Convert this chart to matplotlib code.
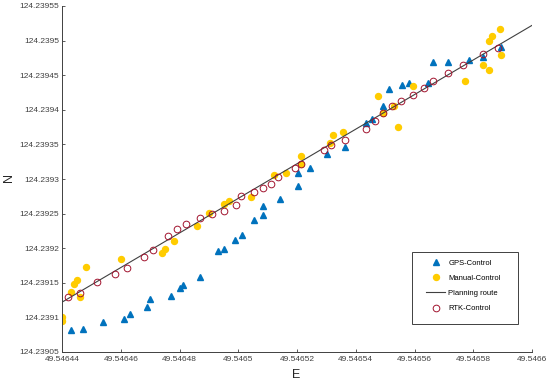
import matplotlib
matplotlib.use("Agg")
import matplotlib.pyplot as plt
from matplotlib.patches import Rectangle

# GPS controlled track (blue triangles)
gps_e = [49.5464431, 49.5464472, 49.5464540, 49.5464612, 49.5464632, 49.5464690,
         49.5464700, 49.5464772, 49.5464803, 49.5464813, 49.5464871, 49.5464932,
         49.5464953, 49.5464990, 49.5465014, 49.5465052, 49.5465083, 49.5465083,
         49.5465141, 49.5465202, 49.5465202, 49.5465243, 49.5465301, 49.5465362,
         49.5465434, 49.5465455, 49.5465492, 49.5465513, 49.5465557, 49.5465581,
         49.5465646, 49.5465663, 49.5465714, 49.5465786, 49.5465833, 49.5465895]
gps_n = [124.2390818, 124.2390832, 124.2390934, 124.2390977, 124.2391049, 124.2391150,
         124.2391266, 124.2391309, 124.2391425, 124.2391468, 124.2391584, 124.2391959,
         124.2391988, 124.2392118, 124.2392191, 124.2392407, 124.2392480, 124.2392610,
         124.2392711, 124.2392899, 124.2393087, 124.2393159, 124.2393361, 124.2393462,
         124.2393809, 124.2393867, 124.2394055, 124.2394300, 124.2394358, 124.2394387,
         124.2394387, 124.2394691, 124.2394691, 124.2394719, 124.2394763, 124.2394907]

# Manual controlled track (yellow dots)
manual_e = [49.5464400, 49.5464400, 49.5464431, 49.5464441, 49.5464451, 49.5464461,
            49.5464482, 49.5464601, 49.5464741, 49.5464752, 49.5464782, 49.5464861,
            49.5464902, 49.5464950, 49.5464970, 49.5465042, 49.5465120, 49.5465161,
            49.5465212, 49.5465212, 49.5465311, 49.5465322, 49.5465356, 49.5465475,
            49.5465492, 49.5465530, 49.5465543, 49.5465595, 49.5465772, 49.5465833,
            49.5465854, 49.5465854, 49.5465864, 49.5465892, 49.5465895]
manual_n = [124.2391006, 124.2390948, 124.2391367, 124.2391483, 124.2391540, 124.2391295,
            124.2391728, 124.2391844, 124.2391931, 124.2391988, 124.2392104, 124.2392321,
            124.2392509, 124.2392639, 124.2392682, 124.2392740, 124.2393058, 124.2393087,
            124.2393332, 124.2393217, 124.2393520, 124.2393636, 124.2393679, 124.2394199,
            124.2393954, 124.2394055, 124.2393751, 124.2394344, 124.2394416, 124.2394647,
            124.2394575, 124.2394994, 124.2395066, 124.2395167, 124.2394792]

# Planning route (straight line)
route_e = [49.54644, 49.5466]
route_n = [124.239122, 124.239522]

# RTK controlled track (open circles)
rtk_e = [49.5464420, 49.5464461, 49.5464519, 49.5464581, 49.5464622, 49.5464680,
         49.5464711, 49.5464762, 49.5464792, 49.5464823, 49.5464871, 49.5464912,
         49.5464953, 49.5464994, 49.5465011, 49.5465052, 49.5465083, 49.5465113,
         49.5465134, 49.5465192, 49.5465212, 49.5465291, 49.5465315, 49.5465362,
         49.5465434, 49.5465465, 49.5465492, 49.5465523, 49.5465554, 49.5465595,
         49.5465632, 49.5465663, 49.5465714, 49.5465765, 49.5465833, 49.5465885]
rtk_n = [124.2391295, 124.2391353, 124.2391512, 124.2391627, 124.2391714, 124.2391873,
         124.2391974, 124.2392176, 124.2392277, 124.2392350, 124.2392436, 124.2392494,
         124.2392537, 124.2392624, 124.2392754, 124.2392812, 124.2392870, 124.2392928,
         124.2393029, 124.2393159, 124.2393217, 124.2393419, 124.2393491, 124.2393563,
         124.2393722, 124.2393838, 124.2393954, 124.2394055, 124.2394127, 124.2394214,
         124.2394315, 124.2394416, 124.2394532, 124.2394647, 124.2394806, 124.2394893]

# Tick positions and labels
x_ticks = [49.54644, 49.54646, 49.54648, 49.5465, 49.54652, 49.54654, 49.54656, 49.54658, 49.5466]
x_labels = ["49.54644", "49.54646", "49.54648", "49.5465", "49.54652", "49.54654",
            "49.54656", "49.54658", "49.5466"]
y_ticks = [124.23905, 124.2391, 124.23915, 124.2392, 124.23925, 124.2393,
           124.23935, 124.2394, 124.23945, 124.2395, 124.23955]
y_labels = ["124.23905", "124.2391", "124.23915", "124.2392", "124.23925", "124.2393",
            "124.23935", "124.2394", "124.23945", "124.2395", "124.23955"]

plt.rcParams["font.family"] = ["Liberation Sans", "DejaVu Sans"]

fig = plt.figure(figsize=(5.5, 3.85), dpi=100)
ax = fig.add_axes([62 / 550, 33 / 385, 470 / 550, 346 / 385])

# Plotting the tracks
ax.plot(gps_e, gps_n, linestyle="none", marker="^", markersize=5,
        color="#0072bd", label="GPS-Control")
ax.plot(manual_e, manual_n, linestyle="none", marker="o", markersize=4.3,
        color="#ffcc00", label="Manual-Control")
ax.plot(route_e, route_n, color="#404040", linewidth=0.8, label="Planning route")
ax.plot(rtk_e, rtk_n, linestyle="none", marker="o", markersize=4.8,
        markerfacecolor="none", markeredgecolor="#a2142f", markeredgewidth=0.7,
        label="RTK-Control")

# Axes styling
ax.set_xlim(x_ticks[0], x_ticks[-1])
ax.set_ylim(y_ticks[0], y_ticks[-1])
ax.set_xticks(x_ticks)
ax.set_xticklabels(x_labels)
ax.set_yticks(y_ticks)
ax.set_yticklabels(y_labels)
ax.tick_params(direction="in", length=2.5, width=0.6, labelsize=6,
               colors="#404040")
ax.tick_params(axis="y", pad=2)
ax.tick_params(axis="x", pad=3)
ax.spines["top"].set_visible(False)
ax.spines["right"].set_visible(False)
for side in ["left", "bottom"]:
    ax.spines[side].set_color("#404040")
    ax.spines[side].set_linewidth(0.7)

# Labelling
ax.set_xlabel("E", fontsize=9, color="#262626")
ax.set_ylabel("N", fontsize=9, color="#262626")
ax.xaxis.set_label_coords((296 - 62) / 470, -(369 - 352) / 346)
ax.yaxis.set_label_coords(-(62 - 15) / 470, (352 - 178) / 346)

# Legend: entries without frame, box drawn separately
leg = ax.legend(loc="upper left", bbox_to_anchor=((426 - 62) / 470, (352 - 259.5) / 346),
                fontsize=5.5, frameon=False, borderpad=0, borderaxespad=0,
                labelspacing=1.02, handlelength=2.5, handletextpad=0.4, numpoints=1)
ax.add_patch(Rectangle(((412 - 62) / 470, (352 - 324) / 346), 106 / 470, 72 / 346,
                       transform=ax.transAxes, facecolor="white", edgecolor="#404040",
                       linewidth=0.7, zorder=4))
leg.set_zorder(5)

fig.savefig("out.png", dpi=100)
